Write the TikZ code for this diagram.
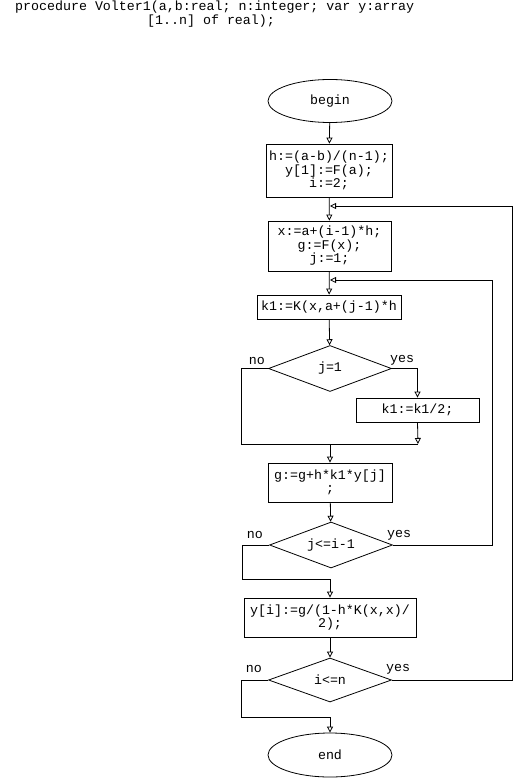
\documentclass[tikz,border=0pt]{standalone}
\usepackage{fontspec}
\setmonofont{Liberation Mono}
\usetikzlibrary{shapes.geometric,arrows.meta,calc}
\begin{document}
\begin{tikzpicture}[x=1pt,y=-1pt,
  every node/.style={font=\ttfamily\fontsize{13.3}{13.5}\selectfont, inner sep=0pt},
  line/.style={draw=black, line width=0.8pt},
  arr/.style={line, -{Triangle[open,length=6pt,width=6pt]}},
  blk/.style={rectangle, draw, line width=0.8pt, align=center},
  term/.style={ellipse, draw, line width=0.8pt, minimum width=124pt, minimum height=43pt},
  dec/.style={diamond, draw, line width=0.8pt, aspect=2.7, minimum width=123pt, minimum height=46pt},
  lab/.style={font=\ttfamily\fontsize{13.3}{13.5}\selectfont}]
\useasboundingbox (0,0) rectangle (514,778);
\node[anchor=base west] (t1) at (15,11) {procedure Volter1(a,b:real; n:integer; var y:array};
\node[anchor=base west] (t2) at (147,25) {[1..n] of real);};

\node[term] (begin) at (330,101) {begin};
\node[blk, minimum width=126pt, minimum height=53pt] (b1) at (329,170.5) {h:=(a-b)/(n-1);\\y[1]:=F(a);\\i:=2;};
\node[blk, minimum width=123pt, minimum height=50pt] (b2) at (329.5,246) {x:=a+(i-1)*h;\\g:=F(x);\\j:=1;};
\node[blk, minimum width=144pt, minimum height=24pt] (b3) at (329,307) {k1:=K(x,a+(j-1)*h};
\node[dec] (d1) at (330,368.5) {j=1};
\node[blk, minimum width=123pt, minimum height=24pt] (b4) at (417.5,410) {k1:=k1/2;};
\node[blk, minimum width=124pt, minimum height=39pt] (b5) at (330,482.5) {g:=g+h*k1*y[j]\\;};
\node[dec] (d2) at (331,545) {j<=i-1};
\node[blk, minimum width=172pt, minimum height=39pt] (b6) at (330,617.5) {y[i]:=g/(1-h*K(x,x)/\\2);};
\node[dec, minimum height=44pt] (d3) at (330,680) {i<=n};
\node[term, minimum height=44pt] (end) at (330,755) {end};

\coordinate (m1) at (330,206);
\coordinate (m2) at (330,280);
\coordinate (jr) at (418,444);
\coordinate (jc) at (330,444);
\coordinate (c2) at (330,579);
\coordinate (c3) at (330,717);

\draw[arr] (begin) -- (b1);
\draw[arr] (b1) -- (b2);
\draw[arr] (b2) -- (b3);
\draw[arr] (b3) -- (d1);
\draw[arr] (d1.east) -| (b4.north);
\draw[arr] (b4.south) -- (jr);
\draw[line] (d1.west) -- ++(-27,0) |- (jr);
\draw[arr] (jc) -- (b5);
\draw[arr] (b5) -- (d2);
\draw[arr] (d2.east) -- (492,545) |- (m2);
\draw[arr] (d2.west) -- ++(-27,0) |- (c2) -- (b6.north);
\draw[arr] (b6) -- (d3);
\draw[arr] (d3.east) -- (512,680) |- (m1);
\draw[arr] (d3.west) -- ++(-27,0) |- (c3) -- (end.north);

\node[lab, anchor=east] (n1) at ([xshift=-3pt,yshift=8pt]d1.west) {no};
\node[lab, anchor=west] (y1) at ([xshift=-2pt,yshift=8pt]d1.east) {yes};
\node[lab, anchor=east] (n2) at ([xshift=-6pt,yshift=10pt]d2.west) {no};
\node[lab, anchor=west] (y2) at ([xshift=-6pt,yshift=10pt]d2.east) {yes};
\node[lab, anchor=east] (n3) at ([xshift=-6pt,yshift=11pt]d3.west) {no};
\node[lab, anchor=west] (y3) at ([xshift=-6pt,yshift=11pt]d3.east) {yes};
\end{tikzpicture}
\end{document}
